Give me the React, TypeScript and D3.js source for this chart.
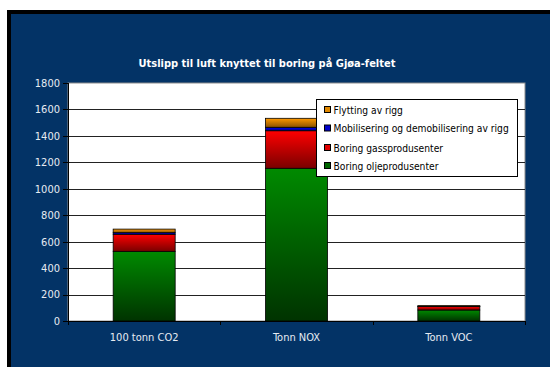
import React from "react";
import * as d3 from "d3";

// Emissions to air from drilling, stacked by source
const categories = ["100 tonn CO2", "Tonn NOX", "Tonn VOC"];
const boringOlje = [527, 1155, 83];
const boringGass = [129, 284, 27];
const mobilisering = [12, 26, 2];
const flytting = [27, 68, 4];
const yTicks = [0, 200, 400, 600, 800, 1000, 1200, 1400, 1600, 1800];

const seriesNames = [
  "Boring oljeprodusenter",
  "Boring gassprodusenter",
  "Mobilisering og demobilisering av rigg",
  "Flytting av rigg",
];
const seriesValues = [boringOlje, boringGass, mobilisering, flytting];
const seriesColors = [
  { top: "#008a00", bottom: "#003300", swatch: "#006600" },
  { top: "#ff0000", bottom: "#7a0000", swatch: "#e00000" },
  { top: "#0000ff", bottom: "#00007a", swatch: "#0000cc" },
  { top: "#ff9900", bottom: "#8a5200", swatch: "#e08800" },
];

const W = 550;
const H = 367;
const plot = { left: 68, right: 525, top: 83, bottom: 321 };
const font = "'DejaVu Sans Condensed', 'DejaVu Sans', sans-serif";
const textColor = "#e6ebf2";

export default function App() {
  const x = d3
    .scaleBand<string>()
    .domain(categories)
    .range([plot.left, plot.right])
    .paddingInner(0.593)
    .paddingOuter(0.2965);
  const y = d3.scaleLinear().domain([0, 1800]).range([plot.bottom, plot.top]);

  const table = categories.map((c, i) => {
    const row: Record<string, number | string> = { category: c };
    seriesNames.forEach((n, s) => (row[n] = seriesValues[s][i]));
    return row;
  });
  const stacked = d3.stack<Record<string, number | string>>().keys(seriesNames)(table as any);

  const step = (plot.right - plot.left) / categories.length;
  const legendOrder = [3, 2, 1, 0];
  const legendRows = [110, 128.5, 148, 166];

  return (
    <svg
      width={W}
      height={H}
      style={{ position: "absolute", left: 0, top: 0 }}
      fontFamily={font}
    >
      <defs>
        {seriesColors.map((c, i) => (
          <linearGradient key={i} id={`grad${i}`} x1="0" y1="0" x2="0" y2="1">
            <stop offset="0" stopColor={c.top} />
            <stop offset="1" stopColor={c.bottom} />
          </linearGradient>
        ))}
      </defs>
      <rect x={0} y={0} width={W} height={H} fill="#ffffff" />
      <rect x={7} y={10} width={W - 7} height={H - 10} fill="#000000" />
      <rect x={11} y={14} width={W - 11} height={H - 14} fill="#033366" />

      <text
        x={267}
        y={67}
        textAnchor="middle"
        fill="#ffffff"
        fontSize={11}
        fontWeight="bold"
      >
        Utslipp til luft knyttet til boring på Gjøa-feltet
      </text>

      {/* plot area */}
      <rect
        x={plot.left}
        y={plot.top}
        width={plot.right - plot.left}
        height={plot.bottom - plot.top}
        fill="#ffffff"
        stroke="#8c8c8c"
        strokeWidth={1}
      />
      {yTicks.slice(1, -1).map((t) => (
        <line
          key={t}
          x1={plot.left}
          x2={plot.right}
          y1={Math.round(y(t)) + 0.5}
          y2={Math.round(y(t)) + 0.5}
          stroke="#222222"
          strokeWidth={1}
        />
      ))}

      {/* stacked bars */}
      {stacked.map((layer, s) =>
        layer.map((d, i) => {
          const y0 = y(d[0]);
          const y1 = y(d[1]);
          return (
            <rect
              key={`${s}-${i}`}
              x={x(categories[i])!}
              y={y1}
              width={x.bandwidth()}
              height={Math.max(0, y0 - y1)}
              fill={`url(#grad${s})`}
              stroke="#000000"
              strokeWidth={0.8}
            />
          );
        })
      )}

      {/* axes */}
      <line
        x1={plot.left + 0.5}
        x2={plot.left + 0.5}
        y1={plot.top}
        y2={plot.bottom}
        stroke="#000000"
      />
      <line
        x1={plot.left}
        x2={plot.right}
        y1={plot.bottom + 0.5}
        y2={plot.bottom + 0.5}
        stroke="#000000"
      />
      {yTicks.map((t) => (
        <g key={t}>
          <line
            x1={plot.left - 5}
            x2={plot.left}
            y1={Math.round(y(t)) + 0.5}
            y2={Math.round(y(t)) + 0.5}
            stroke="#000000"
          />
          <text
            x={60}
            y={y(t)}
            dy="0.35em"
            textAnchor="end"
            fill={textColor}
            fontSize={11}
          >
            {t}
          </text>
        </g>
      ))}
      {d3.range(categories.length + 1).map((k) => (
        <line
          key={k}
          x1={Math.round(plot.left + k * step) + 0.5}
          x2={Math.round(plot.left + k * step) + 0.5}
          y1={plot.bottom}
          y2={plot.bottom + 4}
          stroke="#000000"
        />
      ))}
      {categories.map((c) => (
        <text
          key={c}
          x={x(c)! + x.bandwidth() / 2}
          y={341}
          textAnchor="middle"
          fill={textColor}
          fontSize={11}
        >
          {c}
        </text>
      ))}

      {/* legend */}
      <rect
        x={316.5}
        y={99.5}
        width={201}
        height={77}
        fill="#ffffff"
        stroke="#000000"
        strokeWidth={1}
      />
      {legendOrder.map((s, r) => (
        <g key={s}>
          <rect
            x={324.5}
            y={legendRows[r] - 3.5}
            width={6}
            height={6}
            fill={seriesColors[s].swatch}
            stroke="#000000"
            strokeWidth={1}
          />
          <text
            x={333.5}
            y={legendRows[r]}
            dy="0.35em"
            fill="#000000"
            fontSize={10.2}
          >
            {seriesNames[s]}
          </text>
        </g>
      ))}
    </svg>
  );
}
